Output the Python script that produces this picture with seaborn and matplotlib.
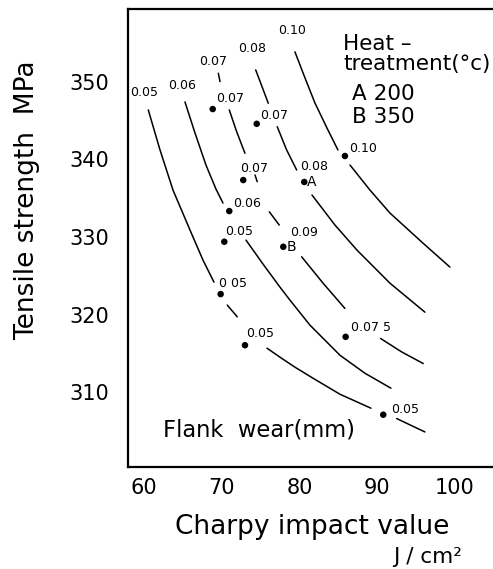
import matplotlib
matplotlib.use("Agg")
import matplotlib.pyplot as plt
import seaborn as sns
import pandas as pd

# ---- data -------------------------------------------------------------
# curves (each curve broken into its visible segments)
c1_segs = [
    ([60.55, 62.06, 63.73, 65.92, 67.59, 69.00], [346.39, 341.23, 336.06, 330.90, 327.03, 324.19]),
    ([70.71, 72.00], [321.23, 319.72]),
    ([75.82, 77.49, 79.42, 81.74, 85.21, 89.20], [315.68, 314.52, 313.23, 311.81, 309.74, 307.94]),
    ([92.50, 96.14], [306.61, 304.88]),
]
c2_segs = [
    ([65.27, 66.56, 67.97, 69.26, 70.16], [347.42, 343.42, 339.29, 336.19, 334.39]),
    ([73.12, 75.31, 77.49, 78.78, 81.35, 85.21, 88.42, 91.77],
     [329.61, 326.52, 323.55, 321.87, 318.65, 314.77, 312.45, 310.52]),
]
c3_segs = [
    ([69.56, 69.78], [351.12, 350.04]),
    ([70.97, 71.92, 72.99], [346.39, 343.59, 340.80]),
    ([74.28, 74.57], [338.00, 337.14]),
    ([76.12, 77.40], [333.26, 331.55]),
    ([80.28, 83.06, 85.85], [327.46, 324.03, 320.80]),
    ([90.44, 93.14, 95.92], [316.93, 315.20, 313.70]),
]
c4_segs = [
    ([74.37, 75.99], [351.55, 347.25]),
    ([77.14, 78.35, 79.64], [344.23, 341.23, 338.65]),
    ([81.61, 84.57, 87.40, 91.64, 96.14], [335.42, 331.55, 328.32, 324.06, 320.32]),
]
c5_segs = [
    ([79.42, 80.71, 81.99, 83.54, 84.95], [353.87, 350.52, 347.29, 344.06, 341.23]),
    ([86.50, 89.07, 91.64, 95.88, 99.36], [339.29, 336.06, 333.10, 329.23, 326.13]),
]
curves = [c1_segs, c2_segs, c3_segs, c4_segs, c5_segs]

curve_label_x = [60.0, 64.95, 68.87, 73.9, 79.0]
curve_label_y = [348.65, 349.5, 352.6, 354.3, 356.6]
curve_label_text = ["0.05", "0.06", "0.07", "0.08", "0.10"]

point_x = [68.84, 74.50, 72.77, 80.62, 85.85, 70.97, 70.33, 77.92, 69.86, 72.99, 85.94, 90.78]
point_y = [346.5, 344.6, 337.35, 337.1, 340.45, 333.35, 329.4, 328.75, 322.65, 316.06, 317.14, 307.1]
point_wear = ["0.07", "0.07", "0.07", "0.08", "0.10", "0.06", "0.05", "0.09", "0 05", "0.05", "0.07 5", "0.05"]
point_tag = ["", "", "", "A", "", "", "", "B", "", "", "", ""]

x_ticks = [60, 70, 80, 90, 100]
y_ticks = [310, 320, 330, 340, 350]

# label offsets (pixels) - style only
label_off = [(3.5, 7), (3.5, 5), (-3, 8), (-4, 12), (4, 4), (4, 4), (1, 6.5),
             (7, 10.7), (-1.7, 7), (1, 8), (5, 6), (7.5, 2)]

# ---- build tables -----------------------------------------------------
rows = []
seg_id = 0
for segs in curves:
    for xs, ys in segs:
        for xv, yv in zip(xs, ys):
            rows.append({"x": xv, "y": yv, "seg": seg_id})
        seg_id += 1
line_df = pd.DataFrame(rows)
pts_df = pd.DataFrame({"x": point_x, "y": point_y})

# ---- plot -------------------------------------------------------------
sns.set_theme(style="white")
plt.rcParams["font.family"] = ["DejaVu Sans"]
plt.rcParams["text.color"] = "black"
plt.rcParams["axes.labelcolor"] = "black"

fig = plt.figure(figsize=(4.93, 5.69), dpi=100)
ax = fig.add_axes([128.3 / 493, 1 - 466.7 / 569, 1 - 128.3 / 493, (466.7 - 9) / 569])

sns.lineplot(data=line_df, x="x", y="y", units="seg", estimator=None, sort=False,
             color="black", lw=1.1, ax=ax, legend=False)
sns.scatterplot(data=pts_df, x="x", y="y", color="black", s=22, edgecolor="none",
                ax=ax, legend=False)

for xv, yv, t in zip(curve_label_x, curve_label_y, curve_label_text):
    ax.text(xv, yv, t, ha="center", va="center", fontsize=9, color="black")

for xv, yv, t, tag, off in zip(point_x, point_y, point_wear, point_tag, label_off):
    ax.annotate(t, (xv, yv), xytext=off, textcoords="offset pixels",
                ha="left", va="baseline", fontsize=9, color="black")
    if tag:
        ax.annotate(tag, (xv, yv), xytext=(3, 0), textcoords="offset pixels",
                    ha="left", va="center", fontsize=10, color="black")

ax.set_xlim(57.98, 104.9)
ax.set_ylim(300.4, 359.4)
ax.set_xticks(x_ticks)
ax.set_yticks(y_ticks)
ax.tick_params(direction="in", length=4, width=1.2, labelsize=15, colors="black")
ax.tick_params(axis="y", pad=14)
ax.tick_params(axis="x", pad=8)

for s in ["left", "bottom", "top"]:
    ax.spines[s].set_visible(True)
    ax.spines[s].set_color("black")
    ax.spines[s].set_linewidth(1.6)
ax.spines["right"].set_visible(False)

ax.set_xlabel("Charpy impact value", fontsize=19, color="black")
ax.xaxis.set_label_coords(0.504, -0.103)
ax.set_ylabel("Tensile strength  MPa", fontsize=19, color="black")
ax.yaxis.set_label_coords(-0.241, 0.583)

ax.text(0.589, 0.910, "Heat –", transform=ax.transAxes, fontsize=15.5, va="baseline")
ax.text(0.589, 0.867, "treatment(°c)", transform=ax.transAxes, fontsize=15.5, va="baseline")
ax.text(0.613, 0.801, "A 200", transform=ax.transAxes, fontsize=15.5, va="baseline")
ax.text(0.613, 0.751, "B 350", transform=ax.transAxes, fontsize=15.5, va="baseline")
ax.text(0.095, 0.065, "Flank  wear(mm)", transform=ax.transAxes, fontsize=16.3, va="baseline")

fig.text(393 / 493, 1 - 563 / 569, "J / cm²", fontsize=15.5, va="baseline")

fig.savefig("out.png", dpi=100)
